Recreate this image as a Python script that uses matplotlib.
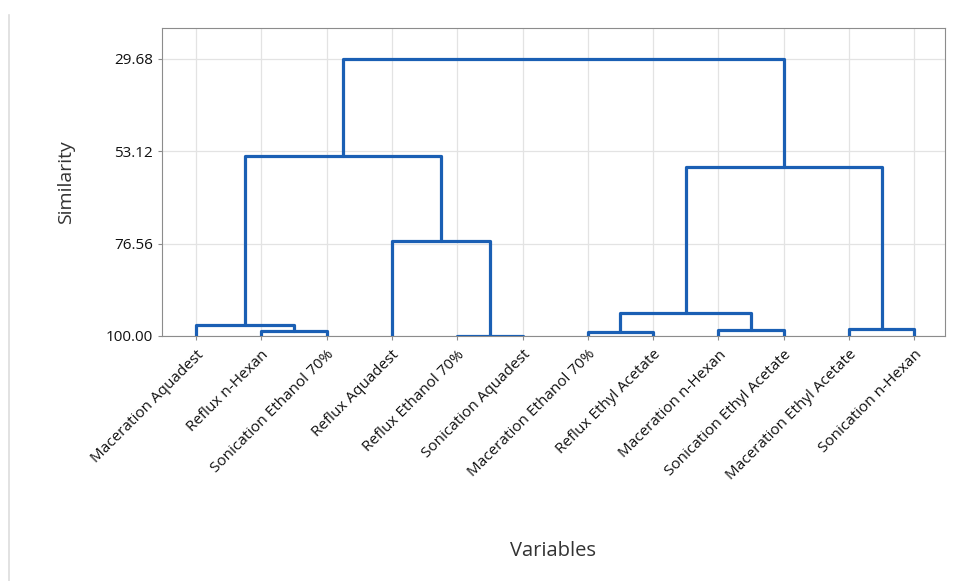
import numpy as np
import matplotlib.pyplot as plt
from matplotlib.lines import Line2D

# hojas en el orden del dendrograma
labels = ["Maceration Aquadest", "Reflux n-Hexan", "Sonication Ethanol 70%",
          "Reflux Aquadest", "Reflux Ethanol 70%", "Sonication Aquadest",
          "Maceration Ethanol 70%", "Reflux Ethyl Acetate", "Maceration n-Hexan",
          "Sonication Ethyl Acetate", "Maceration Ethyl Acetate", "Sonication n-Hexan"]

# uniones: (cluster a, cluster b, similitud); los nuevos clusters se numeran desde 12
merge_a = [4, 1, 6, 8, 10, 0, 14, 3, 17, 18, 20]
merge_b = [5, 2, 7, 9, 11, 13, 15, 12, 19, 16, 21]
merge_sim = [99.9, 98.7, 99.0, 98.5, 98.2, 97.2, 94.2, 75.8, 54.4, 57.2, 29.68]

y_ticks = [29.68, 53.12, 76.56, 100.00]
line_color = "#1a5fb4"

plt.rcParams['font.family'] = ['Open Sans', 'DejaVu Sans']

fig = plt.figure(figsize=(9.79, 5.81), dpi=100)
ax = fig.add_axes([0.1655, 0.4217, 0.7998, 0.5301])

n = len(labels)
pos_x = {i: i + 1 for i in range(n)}
pos_h = {i: 100.0 for i in range(n)}

for k, (a, b, h) in enumerate(zip(merge_a, merge_b, merge_sim)):
    xa, xb = pos_x[a], pos_x[b]
    ax.plot([xa, xa, xb, xb], [pos_h[a], h, h, pos_h[b]],
            color=line_color, linewidth=2.3, solid_joinstyle='round',
            solid_capstyle='round', zorder=3)
    pos_x[n + k] = (xa + xb) / 2
    pos_h[n + k] = h

ax.set_xlim(0.48, 12.47)
ax.set_ylim(100, 21.9)
ax.set_yticks(y_ticks)
ax.set_yticklabels([f"{v:.2f}" for v in y_ticks], fontsize=11)
ax.set_xticks(range(1, n + 1))
ax.set_xticklabels(labels, rotation=45, ha='right', va='top',
                   rotation_mode='anchor', fontsize=11)

ax.grid(True, color="#e3e3e3", linewidth=0.9)
ax.set_axisbelow(True)
for s in ax.spines.values():
    s.set_color("#8c8c8c")
ax.tick_params(axis='both', colors="#8c8c8c", length=3, labelcolor="#111111")
ax.tick_params(axis='x', pad=5)

ax.set_ylabel("Similarity", fontsize=14, color="#333333", labelpad=22)
fig.text(0.565, 0.043, "Variables", fontsize=14.5, color="#333333", ha='center')

# borde izquierdo claro de la captura
fig.add_artist(Line2D([0.0095, 0.0095], [0.0, 0.975], color="#dddddd", linewidth=1.2))

fig.savefig("out.png", dpi=100)
